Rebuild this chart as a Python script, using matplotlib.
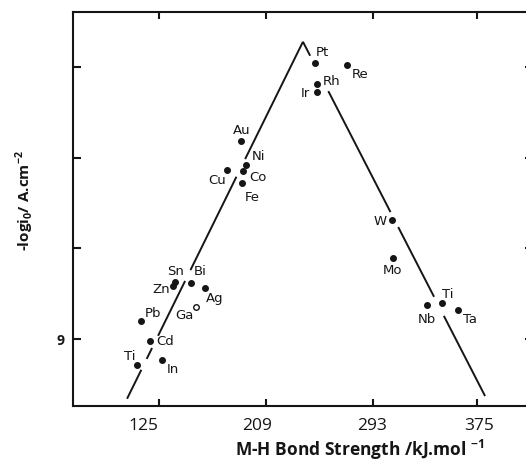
import matplotlib.pyplot as plt
import matplotlib.transforms as mtransforms
import numpy as np

plt.rcParams["font.family"] = ["Open Sans", "DejaVu Sans"]
plt.rcParams["mathtext.fontset"] = "custom"
plt.rcParams["mathtext.rm"] = "Open Sans"
plt.rcParams["mathtext.bf"] = "Open Sans:bold"

INK = "#151515"

# exchange current vs. metal-hydrogen bond strength
metals = ["Pt", "Re", "Rh", "Ir", "Au", "Ni", "Co", "Cu", "Fe",
          "Sn", "Zn", "Bi", "Ag", "Ga", "Pb", "Cd", "Ti", "In",
          "W", "Mo", "Ti", "Nb", "Ta"]
bond_strength = [247.6, 272.8, 249.2, 249.2, 189.3, 193.3, 190.9, 178.3, 190.1,
                 137.4, 135.8, 150.0, 161.0, 153.9, 110.6, 117.7, 107.4, 127.1,
                 308.2, 309.0, 347.6, 335.8, 360.2]
neg_log_i0 = [2.91, 2.95, 3.37, 3.55, 4.63, 5.16, 5.29, 5.27, 5.56,
              7.74, 7.83, 7.76, 7.87, 8.29, 8.60, 9.04, 9.57, 9.46,
              6.37, 7.21, 8.21, 8.25, 8.36]
open_points = ["Ga"]

# label placement relative to each point, in pixels
label_offsets = [(7, 12), (13, -9), (15, 3), (-12, 0), (1, 11), (12, 9), (15, -6),
                 (-10, -10), (10, -13), (1, 11), (-12, -3), (9, 12), (10, -10),
                 (-12, -8), (12, 8), (15, 0), (-7, 9), (11, -9),
                 (-12, -1), (0, -12), (6, 10), (0, -14), (12, -9)]

# the two branches of the volcano, with the breaks left around labels
left_branch_x = [99.6, 238.1]
left_branch_y = [10.32, 2.44]
left_gaps = [(9.44, 9.68), (8.93, 9.20), (7.48, 7.72), (5.03, 5.42)]
right_branch_x = [238.1, 381.5]
right_branch_y = [2.44, 10.26]
right_gaps = [(2.75, 3.53), (6.20, 6.53), (8.07, 8.49)]

x_ticks = [125, 209, 293, 375]
x_tick_shift = [-16, -9, -1, 2]
y_ticks = [3, 5, 7, 9]
y_tick_labels = ["", "", "", "9"]


def draw_branch(ax, xs, ys, gaps):
    xs, ys = np.asarray(xs), np.asarray(ys)
    order = np.argsort(ys)
    start = ys.min()
    pieces = []
    for g0, g1 in sorted(gaps):
        pieces.append((start, g0))
        start = g1
    pieces.append((start, ys.max()))
    for a, b in pieces:
        seg_y = np.array([a, b])
        seg_x = np.interp(seg_y, ys[order], xs[order])
        ax.plot(seg_x, seg_y, color=INK, lw=1.4, solid_capstyle="butt")


fig = plt.figure(figsize=(5.26, 4.64), dpi=100)
ax = fig.add_axes([72.7 / 526, 57 / 464, 456.3 / 526, 393.7 / 464])

draw_branch(ax, left_branch_x, left_branch_y, left_gaps)
draw_branch(ax, right_branch_x, right_branch_y, right_gaps)

for name, x, y, (dx, dy) in zip(metals, bond_strength, neg_log_i0, label_offsets):
    if name in open_points:
        ax.plot(x, y, "o", ms=4, mfc="white", mec=INK, mew=1.0)
    else:
        ax.plot(x, y, "o", ms=4, color=INK)
    ax.annotate(name, (x, y), xytext=(dx, dy), textcoords="offset pixels",
                ha="center", va="center", fontsize=9.5, color=INK,
                family="DejaVu Sans")

ax.set_xlim(56.8, 416.1)
ax.set_ylim(10.48, 1.79)

ax.set_xticks(x_ticks)
ax.set_yticks(y_ticks, labels=y_tick_labels)
ax.tick_params(axis="x", direction="in", length=5, width=1.5, top=True,
               labelsize=12.5, pad=8, colors=INK)
ax.tick_params(axis="y", direction="in", length=6, width=1.5, right=True,
               labelsize=10, pad=6, colors=INK)
for lbl in ax.get_yticklabels():
    lbl.set_fontweight("bold")
for tick in ax.yaxis.get_major_ticks():
    tick.tick2line.set_color("#c8c8c8")
    tick.tick2line.set_markersize(3)

for lbl, shift in zip(ax.get_xticklabels(), x_tick_shift):
    lbl.set_transform(lbl.get_transform()
                      + mtransforms.ScaledTranslation(shift / 100, 0, fig.dpi_scale_trans))

for side in ("left", "bottom", "top"):
    ax.spines[side].set_linewidth(1.5)
    ax.spines[side].set_color(INK)
ax.spines["right"].set_visible(False)

ax.set_xlabel(r"M-H Bond Strength /kJ.mol $^{\mathbf{-1}}$", fontsize=12.5,
              fontweight="bold", color=INK)
ax.xaxis.set_label_coords(0.6285, -0.078)
fig.text(25 / 526, 1 - 201 / 464, r"-logi$_{\mathbf{0}}$/ A.cm$^{\mathbf{-2}}$",
         rotation=90, ha="center", va="center", fontsize=11, fontweight="bold",
         color=INK)

fig.savefig("out.png", dpi=100)
